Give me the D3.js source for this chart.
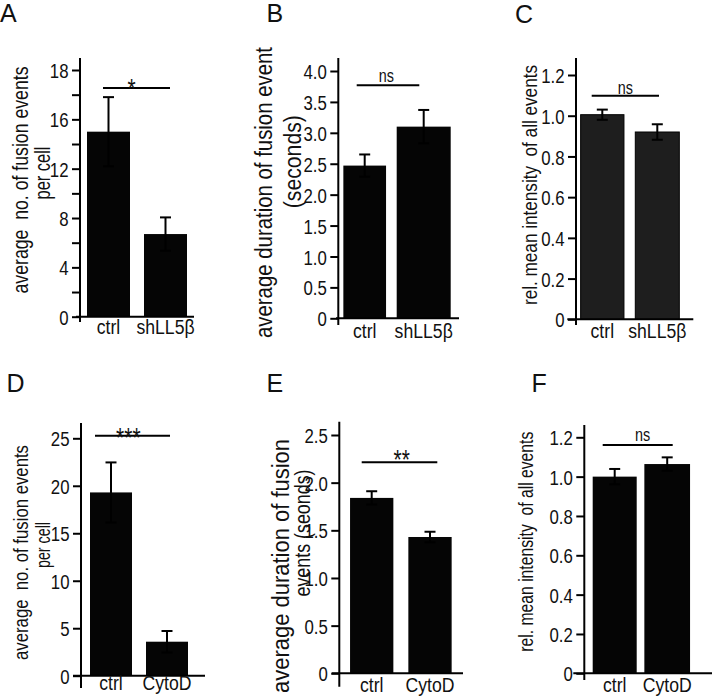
<!DOCTYPE html>
<html><head><meta charset="utf-8">
<script src="https://cdn.jsdelivr.net/npm/d3@7"></script>
<style>body{margin:0;background:#fff}svg{display:block}</style>
</head><body>
<svg id="chart" width="712" height="697"></svg>
<script>
// ---------------- DATA ----------------
const catsA = ["ctrl", "shLL5β"];
const valsA = [15.0, 6.7];
const errsA = [2.8, 1.35];
const ticksA = [0, 2, 4, 6, 8, 10, 12, 14, 16, 18, 20];
const tickLabelsA = ["0", "", "4", "", "8", "", "12", "", "16", "", "18"];
const sigA = "*";
const sigLevelA = 18.55;

const catsB = ["ctrl", "shLL5β"];
const valsB = [2.47, 3.10];
const errsB = [0.18, 0.27];
const ticksB = [0, 0.5, 1, 1.5, 2, 2.5, 3, 3.5, 4];
const tickLabelsB = ["0", "0.5", "1.0", "1.5", "2.0", "2.5", "3.0", "3.5", "4.0"];
const sigB = "ns";
const sigLevelB = 3.77;

const catsC = ["ctrl", "shLL5β"];
const valsC = [1.005, 0.92];
const errsC = [0.025, 0.038];
const ticksC = [0, 0.2, 0.4, 0.6, 0.8, 1.0, 1.2];
const tickLabelsC = ["0", "0.2", "0.4", "0.6", "0.8", "1.0", "1.2"];
const sigC = "ns";
const sigLevelC = 1.098;

const catsD = ["ctrl", "CytoD"];
const valsD = [19.3, 3.58];
const errsD = [3.16, 1.13];
const ticksD = [0, 5, 10, 15, 20, 25];
const tickLabelsD = ["0", "5", "10", "15", "20", "25"];
const sigD = "***";
const sigLevelD = 25.27;

const catsE = ["ctrl", "CytoD"];
const valsE = [1.84, 1.43];
const errsE = [0.07, 0.055];
const ticksE = [0, 0.5, 1, 1.5, 2, 2.5];
const tickLabelsE = ["0", "0.5", "1.0", "1.5", "2.0", "2.5"];
const sigE = "**";
const sigLevelE = 2.214;

const catsF = ["ctrl", "CytoD"];
const valsF = [1.0, 1.064];
const errsF = [0.039, 0.034];
const ticksF = [0, 0.2, 0.4, 0.6, 0.8, 1.0, 1.2];
const tickLabelsF = ["0", "0.2", "0.4", "0.6", "0.8", "1.0", "1.2"];
const sigF = "ns";
const sigLevelF = 1.161;

// ---------------- LAYOUT ----------------
const panels = [
  {letter: "A", lx: 0, ly: 22, cats: catsA, vals: valsA, errs: errsA, ticks: ticksA, tickLabels: tickLabelsA,
   sig: sigA, sigLevel: sigLevelA, sigX: [-5.5, 4.5], sigTx: -4.8, sigDy: 10.4,
   axisX: 80, axisTop: 58, axisBottom: 322, yRange: [316.7, 70], yDomain: [0, 20],
   xRange: [80, 194], xLine: [76, 194], barW: [43, 43], catY: 334, fill: "#050505",
   ylabels: [
     {t: "average  no. of fusion events", cx: 20.5, cy: 180, len: 227, fs: 22},
     {t: "per cell", cx: 42, cy: 173, len: 53, fs: 22}]},
  {letter: "B", lx: 266.5, ly: 22, cats: catsB, vals: valsB, errs: errsB, ticks: ticksB, tickLabels: tickLabelsB,
   sig: sigB, sigLevel: sigLevelB, sigX: [-8, -4.4], sigTx: -1.7, sigDy: -3,
   axisX: 338.3, axisTop: 58, axisBottom: 325, yRange: [318.3, 71], yDomain: [0, 4],
   xRange: [335.2, 453.2], xLine: [336, 459], barW: [42.7, 54], catY: 337.5, fill: "#050505",
   ylabels: [
     {t: "average duration of fusion event", cx: 264.3, cy: 192.5, len: 291, fs: 23},
     {t: "(seconds)", cx: 293.3, cy: 161.7, len: 93, fs: 23}]},
  {letter: "C", lx: 515, ly: 23, cats: catsC, vals: valsC, errs: errsC, ticks: ticksC, tickLabels: tickLabelsC,
   sig: sigC, sigLevel: sigLevelC, sigX: [-10.6, 1.7], sigTx: 0, sigDy: -1.7,
   axisX: 576, axisTop: 58, axisBottom: 325, yRange: [319.3, 75], yDomain: [0, 1.2],
   xRange: [574.8, 684.8], xLine: [567.3, 693.3], barW: [43.3, 44], catY: 338, fill: "#1e1e1e",
   ylabels: [
     {t: "rel. mean intensity  of all events", cx: 530, cy: 185, len: 240, fs: 21}]},
  {letter: "D", lx: 6.5, ly: 392, cats: catsD, vals: valsD, errs: errsD, ticks: ticksD, tickLabels: tickLabelsD,
   sig: sigD, sigLevel: sigLevelD, sigX: [-16, 3], sigTx: -4.2, sigDy: 10.9,
   axisX: 81, axisTop: 423, axisBottom: 688, yRange: [675.7, 438.3], yDomain: [0, 25],
   xRange: [83, 195], xLine: [73, 205], barW: [42, 42], catY: 690, fill: "#050505",
   ylabels: [
     {t: "average  no. of fusion events", cx: 20.5, cy: 552.5, len: 215, fs: 21},
     {t: "per cell", cx: 43, cy: 545, len: 46, fs: 21}]},
  {letter: "E", lx: 266.5, ly: 392, cats: catsE, vals: valsE, errs: errsE, ticks: ticksE, tickLabels: tickLabelsE,
   sig: sigE, sigLevel: sigLevelE, sigX: [-10, 7.3], sigTx: 2.2, sigDy: 6.6,
   axisX: 339.3, axisTop: 421.7, axisBottom: 686.7, yRange: [673.3, 435], yDomain: [0, 2.5],
   xRange: [342.55, 459.15], xLine: [331.7, 463], barW: [43.3, 43.3], catY: 692, fill: "#050505",
   ylabels: [
     {t: "average duration of fusion", cx: 280.5, cy: 566, len: 254, fs: 23},
     {t: "events (seonds)", cx: 302, cy: 533, len: 127, fs: 22}]},
  {letter: "F", lx: 531.5, ly: 392, cats: catsF, vals: valsF, errs: errsF, ticks: ticksF, tickLabels: tickLabelsF,
   sig: sigF, sigLevel: sigLevelF, sigX: [-12, 5.5], sigTx: 5, sigDy: -4.3,
   axisX: 584.3, axisTop: 425, axisBottom: 680, yRange: [673.3, 437.3], yDomain: [0, 1.2],
   xRange: [588.45, 693.45], xLine: [573.3, 712], barW: [44, 45.7], catY: 692, fill: "#050505",
   ylabels: [
     {t: "rel. mean intensity  of all events", cx: 526, cy: 541.7, len: 220, fs: 20}]}
];

const FONT = "'Liberation Sans', Arial, Helvetica, sans-serif";
const NARROW = 0.8;
const svg = d3.select("#chart");

panels.forEach(p => {
  const g = svg.append("g");
  const y = d3.scaleLinear().domain(p.yDomain).range(p.yRange);
  const x = d3.scaleBand().domain(p.cats).range(p.xRange).paddingInner(0).paddingOuter(0);
  const cx = c => x(c) + x.bandwidth() / 2;

  // panel letter
  g.append("text").attr("x", p.lx).attr("y", p.ly)
    .attr("font-family", FONT).attr("font-size", 25).attr("fill", "#111").text(p.letter);

  // bars
  g.selectAll("rect.bar").data(p.cats).join("rect")
    .attr("class", "bar")
    .attr("x", (c, i) => cx(c) - p.barW[i] / 2)
    .attr("width", (c, i) => p.barW[i])
    .attr("y", (c, i) => y(p.vals[i]))
    .attr("height", (c, i) => y(0) - y(p.vals[i]))
    .attr("fill", p.fill)
    .attr("stroke", "#000").attr("stroke-width", p.fill === "#050505" ? 0 : 1);

  // error bars
  const eb = g.selectAll("g.err").data(p.cats).join("g").attr("class", "err")
    .attr("stroke", "#000").attr("stroke-width", 2).attr("fill", "none");
  eb.append("line")
    .attr("x1", c => cx(c)).attr("x2", c => cx(c))
    .attr("y1", (c, i) => y(p.vals[i] - p.errs[i]))
    .attr("y2", (c, i) => y(p.vals[i] + p.errs[i]));
  eb.append("line")
    .attr("x1", c => cx(c) - 5.5).attr("x2", c => cx(c) + 5.5)
    .attr("y1", (c, i) => y(p.vals[i] + p.errs[i]))
    .attr("y2", (c, i) => y(p.vals[i] + p.errs[i]));
  eb.append("line")
    .attr("x1", c => cx(c) - 5.5).attr("x2", c => cx(c) + 5.5)
    .attr("y1", (c, i) => y(p.vals[i] - p.errs[i]))
    .attr("y2", (c, i) => y(p.vals[i] - p.errs[i]));

  // y axis
  const yAxis = d3.axisLeft(y).tickValues(p.ticks)
    .tickFormat((d, i) => p.tickLabels[i]).tickSize(8).tickPadding(3.5).tickSizeOuter(0);
  const ya = g.append("g").attr("transform", `translate(${p.axisX},0)`).call(yAxis);
  ya.select(".domain").remove();
  ya.selectAll(".tick line").attr("stroke", "#000").attr("stroke-width", 2);
  ya.selectAll(".tick text").each(function () {
    const t = d3.select(this);
    const xx = +t.attr("x");
    t.attr("x", 0).attr("transform", `translate(${xx},0) scale(${NARROW},1)`)
      .attr("font-family", FONT).attr("font-size", 21).attr("fill", "#111").attr("dy", "0.36em");
  });
  g.append("line").attr("x1", p.axisX).attr("x2", p.axisX)
    .attr("y1", p.axisTop).attr("y2", p.axisBottom)
    .attr("stroke", "#000").attr("stroke-width", 2);

  // x axis
  g.append("line").attr("x1", p.xLine[0]).attr("x2", p.xLine[1])
    .attr("y1", y(0)).attr("y2", y(0))
    .attr("stroke", "#000").attr("stroke-width", 2);
  const xAxis = d3.axisBottom(x).tickSize(0).tickPadding(0);
  const xa = g.append("g").attr("transform", `translate(0,${p.catY})`).call(xAxis);
  xa.select(".domain").remove();
  xa.selectAll(".tick text").each(function () {
    d3.select(this).attr("y", 0).attr("dy", 0)
      .attr("transform", `scale(0.84,1)`)
      .attr("font-family", FONT).attr("font-size", 21).attr("fill", "#111");
  });

  // significance line
  const sx0 = cx(p.cats[0]) + p.sigX[0], sx1 = cx(p.cats[1]) + p.sigX[1];
  const sy = y(p.sigLevel);
  g.append("line").attr("x1", sx0).attr("x2", sx1).attr("y1", sy).attr("y2", sy)
    .attr("stroke", "#000").attr("stroke-width", 2);
  const isStar = p.sig.indexOf("*") >= 0;
  g.append("text")
    .attr("transform", `translate(${(sx0 + sx1) / 2 + p.sigTx},${sy + p.sigDy}) scale(${isStar ? 0.75 : 0.8},1)`)
    .attr("text-anchor", "middle")
    .attr("font-family", FONT).attr("font-size", isStar ? 28 : 18).attr("fill", "#111")
    .text(p.sig);

  // y labels
  p.ylabels.forEach(l => {
    g.append("text")
      .attr("transform", `translate(${l.cx},${l.cy}) rotate(-90)`)
      .attr("text-anchor", "middle").attr("dy", "0.35em")
      .attr("font-family", FONT).attr("font-size", l.fs).attr("fill", "#111")
      .attr("textLength", l.len).attr("lengthAdjust", "spacingAndGlyphs")
      .style("white-space", "pre")
      .text(l.t);
  });
});
</script>
</body></html>
